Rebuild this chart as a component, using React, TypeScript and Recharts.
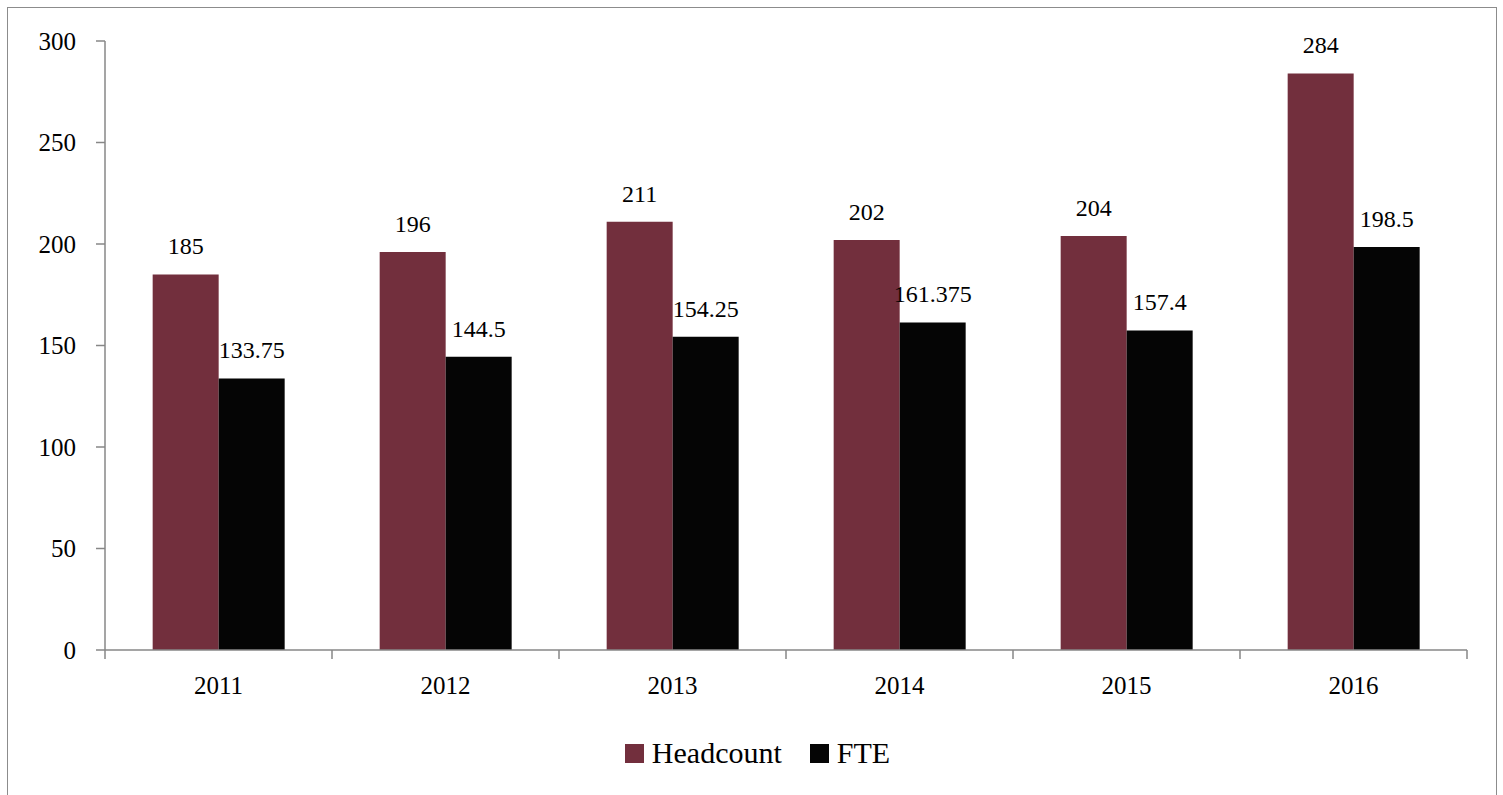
import { BarChart, Bar, XAxis, YAxis, Legend, LabelList } from "recharts";

const years = ["2011", "2012", "2013", "2014", "2015", "2016"];
const headcount = [185, 196, 211, 202, 204, 284];
const fte = [133.75, 144.5, 154.25, 161.375, 157.4, 198.5];
const yTicks = [0, 50, 100, 150, 200, 250, 300];

const series = [
  { key: "headcount", name: "Headcount", color: "#722F3D" },
  { key: "fte", name: "FTE", color: "#050505" },
];

const data = years.map((year, i) => ({ year, headcount: headcount[i], fte: fte[i] }));

const FONT = "'Liberation Serif', 'DejaVu Serif', serif";
const AXIS = "#878787";

// category label plus boundary tick marks (Excel style, ticks between categories)
function YearTick(props: any) {
  const { x, y, payload, index } = props;
  const half = payload?.offset ?? 0;
  return (
    <g>
      <line x1={x - half} x2={x - half} y1={y} y2={y + 9} stroke={AXIS} strokeWidth={1.5} />
      {index === years.length - 1 && (
        <line x1={x + half} x2={x + half} y1={y} y2={y + 9} stroke={AXIS} strokeWidth={1.5} />
      )}
      <text x={x} y={y + 38} textAnchor="middle" dominantBaseline="middle" fontSize={25} fontFamily={FONT} fill="#000">
        {payload.value}
      </text>
    </g>
  );
}

function LegendContent() {
  return (
    <div style={{ display: "flex", justifyContent: "center", alignItems: "center", paddingLeft: 40, fontFamily: FONT, fontSize: 30 }}>
      {series.map((s, i) => (
        <div key={s.key} style={{ display: "flex", alignItems: "center", marginRight: i === series.length - 1 ? 0 : 28 }}>
          <span style={{ width: 19, height: 19, background: s.color, display: "inline-block", marginRight: 8 }} />
          <span style={{ color: "#000", lineHeight: "30px" }}>{s.name}</span>
        </div>
      ))}
    </div>
  );
}

export default function App() {
  return (
    <div
      style={{
        position: "absolute",
        left: 7,
        top: 7,
        width: 1488,
        height: 787,
        borderTop: "1px solid #8c8c8c",
        borderLeft: "1px solid #8c8c8c",
        borderRight: "1px solid #8c8c8c",
        background: "#fff",
      }}
    >
      <BarChart
        width={1488}
        height={787}
        data={data}
        margin={{ top: 33, right: 29, left: 0, bottom: 17 }}
        barCategoryGap="21%"
        barGap={0}
      >
        <YAxis
          width={97}
          domain={[0, 300]}
          ticks={yTicks}
          interval={0}
          axisLine={{ stroke: AXIS, strokeWidth: 1.5 }}
          tickLine={{ stroke: AXIS, strokeWidth: 1.5 }}
          tickSize={9}
          tickMargin={20}
          tick={{ fontSize: 25, fontFamily: FONT, fill: "#000" }}
        />
        <XAxis
          dataKey="year"
          height={88}
          axisLine={{ stroke: AXIS, strokeWidth: 1.5 }}
          tickLine={false}
          tickSize={0}
          tickMargin={0}
          interval={0}
          tick={<YearTick />}
        />
        <Legend verticalAlign="bottom" height={40} content={<LegendContent />} />
        {series.map((s) => (
          <Bar key={s.key} dataKey={s.key} name={s.name} fill={s.color} isAnimationActive={false}>
            <LabelList dataKey={s.key} position="top" offset={20} fontSize={24} fontFamily={FONT} fill="#000" />
          </Bar>
        ))}
      </BarChart>
    </div>
  );
}
